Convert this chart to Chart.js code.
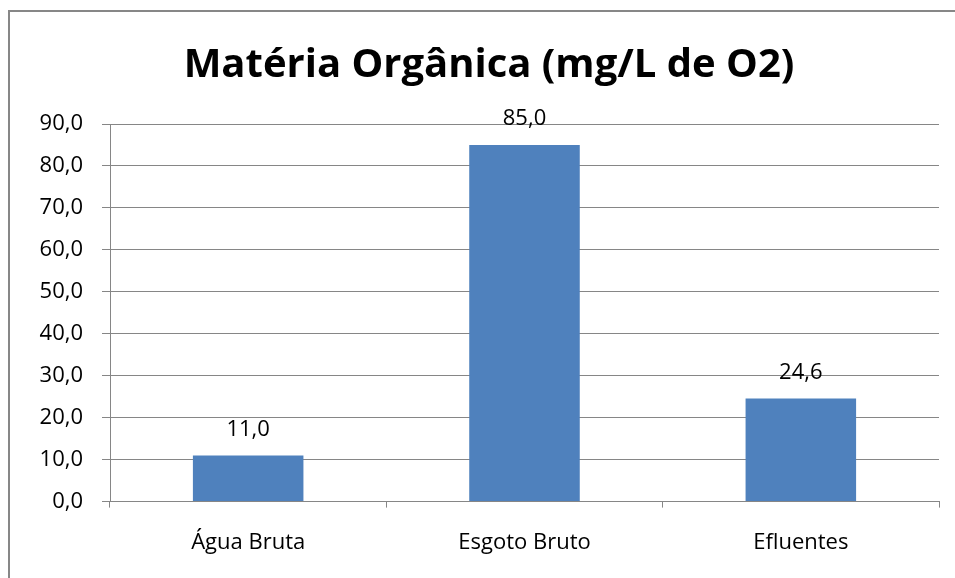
<!DOCTYPE html>
<html>
<head>
<meta charset="utf-8">
<script src="https://cdn.jsdelivr.net/npm/chart.js@4/dist/chart.umd.min.js"></script>
<style>
  html, body { margin: 0; padding: 0; background: #fff; }
  #wrap { width: 955px; height: 578px; position: relative; }
</style>
</head>
<body>
<div id="wrap"><canvas id="chart" width="955" height="578"></canvas></div>
<script>
const categories = ["Água Bruta", "Esgoto Bruto", "Efluentes"]
const values = [11.0, 85.0, 24.6]
const chartTitle = "Matéria Orgânica (mg/L de O2)"

const fmt = (v) => v.toFixed(1).replace(".", ",")

// outer frame, title and value labels above bars
const framePlugin = {
  id: "frame",
  beforeDraw(chart) {
    const ctx = chart.ctx
    ctx.save()
    ctx.fillStyle = "#fff"
    ctx.fillRect(0, 0, chart.width, chart.height)
    ctx.strokeStyle = "#878787"
    ctx.lineWidth = 2
    ctx.strokeRect(9, 11, chart.width + 20, chart.height + 20)
    ctx.font = "bold 40px 'Open Sans'"
    ctx.fillStyle = "#000"
    ctx.textAlign = "center"
    ctx.textBaseline = "middle"
    ctx.fillText(chartTitle, 489, 66)
    ctx.restore()
  },
  afterDatasetsDraw(chart) {
    const ctx = chart.ctx
    const meta = chart.getDatasetMeta(0)
    ctx.save()
    ctx.font = "22px 'Open Sans'"
    ctx.fillStyle = "#000"
    ctx.textAlign = "center"
    ctx.textBaseline = "middle"
    meta.data.forEach((bar, i) => {
      ctx.fillText(fmt(values[i]), bar.x, bar.y - 26)
    })
    ctx.restore()
  }
}

new Chart(document.getElementById("chart"), {
  type: "bar",
  data: {
    labels: categories,
    datasets: [{
      data: values,
      backgroundColor: "#4F81BD",
      categoryPercentage: 1,
      barPercentage: 0.4
    }]
  },
  plugins: [framePlugin],
  options: {
    responsive: false,
    animation: false,
    layout: { padding: { left: 0, right: 16, top: 124, bottom: 0 } },
    plugins: {
      legend: { display: false },
      tooltip: { enabled: false },
      title: { display: false }
    },
    scales: {
      x: {
        grid: {
          offset: true,
          drawOnChartArea: false,
          drawTicks: true,
          tickLength: 6,
          color: "#868686"
        },
        border: { color: "#868686" },
        ticks: {
          color: "#000",
          font: { family: "'Open Sans'", size: 22 },
          padding: 22
        }
      },
      y: {
        min: 0,
        max: 90,
        afterFit(scale) { scale.width = 110 },
        grid: { color: "#868686", tickLength: 8 },
        border: { color: "#868686" },
        ticks: {
          stepSize: 10,
          color: "#000",
          font: { family: "'Open Sans'", size: 22 },
          padding: 19,
          callback: (v) => fmt(v)
        }
      }
    }
  }
})
</script>
</body>
</html>
